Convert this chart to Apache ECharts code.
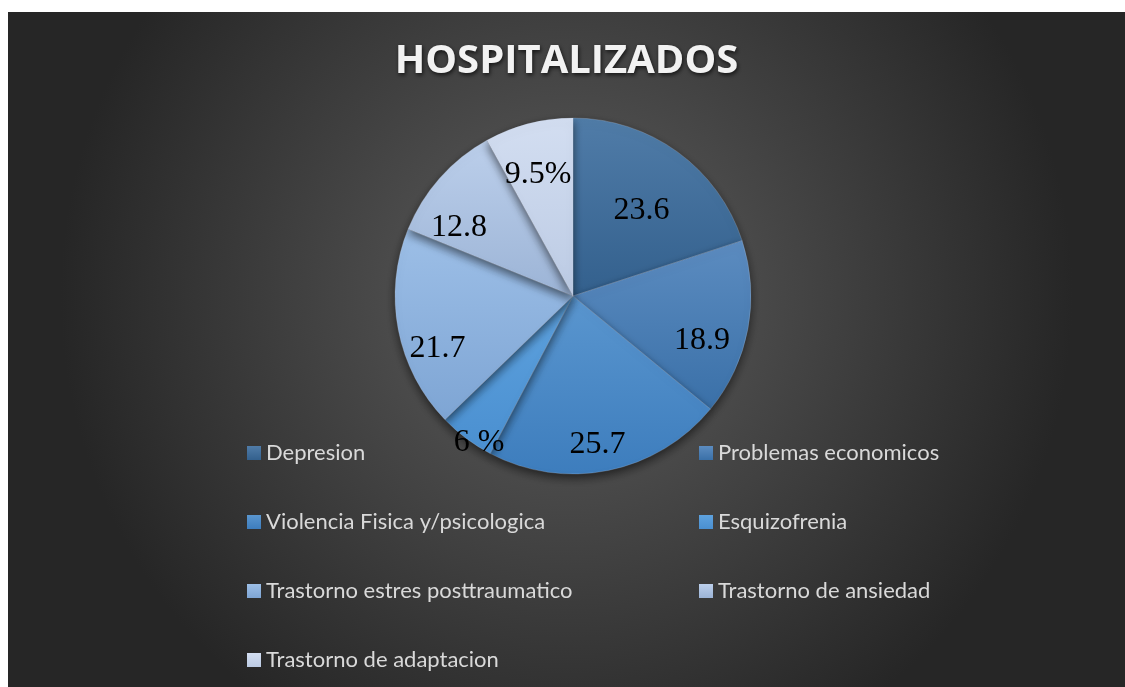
<!DOCTYPE html>
<html>
<head>
<meta charset="utf-8">
<script src="https://cdn.jsdelivr.net/npm/echarts@6/dist/echarts.min.js"></script>
<style>
body { margin: 0; background: #fff; }
#pic1 { position: absolute; left: 8px; top: 12px; width: 1117px; height: 675px; }
</style>
</head>
<body>
<div id="pic1"></div>
<script>
// datos del grafico
var categorias = ['Depresion', 'Problemas economicos', 'Violencia Fisica y/psicologica', 'Esquizofrenia',
  'Trastorno estres posttraumatico', 'Trastorno de ansiedad', 'Trastorno de adaptacion'];
var valores = [23.6, 18.9, 25.7, 6, 21.7, 12.8, 9.5];
var etiquetas = ['23.6', '18.9', '25.7', '6 %', '21.7', '12.8', '9.5%'];

// colores (arriba, abajo)
var colores = [
  ['#507ca8', '#33608d'],
  ['#5c8cc0', '#3a70a8'],
  ['#5a96cf', '#3d7dbd'],
  ['#5ea2de', '#4a8fd0'],
  ['#9dbfe7', '#7ea5d4'],
  ['#bccfeb', '#9cb4d6'],
  ['#d3def1', '#bccbe4']
];
// donde va cada etiqueta: angulo (grados desde arriba) y fraccion del radio
var anguloEtiqueta = [38.6, 109.1, 170.7, 212.6, 248.5, 300.7, 343.9];
var radioEtiqueta = [0.60, 0.75, 0.83, 0.96, 0.80, 0.73, 0.69];
var R = 178;

var total = valores.reduce(function (a, b) { return a + b; }, 0);
var medios = [];
var acum = 0;
for (var i = 0; i < valores.length; i++) {
  medios.push((acum + valores[i] / 2) / total * Math.PI * 2);
  acum += valores[i];
}

var datos = categorias.map(function (c, i) {
  return {
    name: c,
    value: valores[i],
    itemStyle: {
      color: new echarts.graphic.LinearGradient(0, 0, 0, 1, [
        { offset: 0, color: colores[i][0] },
        { offset: 1, color: colores[i][1] }
      ])
    }
  };
});

var myChart = echarts.init(document.getElementById('pic1'));

var leyenda = {
  orient: 'vertical',
  itemWidth: 14,
  itemHeight: 14,
  itemGap: 47,
  top: 425,
  icon: 'rect',
  itemStyle: { borderWidth: 0 },
  textStyle: { color: '#d9d9d9', fontFamily: 'Lato', fontSize: 22 }
};

option = {
  backgroundColor: new echarts.graphic.RadialGradient(0.5, 0.42, 0.75, [
    { offset: 0, color: '#5e5e5e' },
    { offset: 1, color: '#262626' }
  ]),
  title: {
    text: 'HOSPITALIZADOS',
    left: 'center',
    top: 25,
    textStyle: {
      color: '#f2f2f2',
      fontFamily: 'Open Sans',
      fontWeight: 'bold',
      fontSize: 40,
      textShadowColor: 'rgba(0,0,0,0.7)',
      textShadowBlur: 4,
      textShadowOffsetX: 1,
      textShadowOffsetY: 2
    }
  },
  legend: [
    Object.assign({}, leyenda, { left: 234, data: [categorias[0], categorias[2], categorias[4], categorias[6]] }),
    Object.assign({}, leyenda, { left: 686, data: [categorias[1], categorias[3], categorias[5]] })
  ],
  series: [
    {
      name: 'HOSPITALIZADOS',
      type: 'pie',
      radius: R,
      center: [565, 284],
      startAngle: 90,
      clockwise: true,
      animation: false,
      data: datos,
      itemStyle: {
        borderColor: 'rgba(200,212,230,0.45)',
        borderWidth: 0.5,
        shadowBlur: 10,
        shadowOffsetY: 4,
        shadowColor: 'rgba(0,0,0,0.55)'
      },
      label: {
        position: 'inside',
        formatter: function (p) { return etiquetas[p.dataIndex]; },
        color: '#000',
        fontFamily: 'Liberation Serif',
        fontSize: 32
      },
      labelLine: { show: false },
      labelLayout: function (p) {
        var i = p.dataIndex;
        var a = anguloEtiqueta[i] * Math.PI / 180;
        var k = radioEtiqueta[i] * R;
        var m = medios[i];
        return {
          dx: Math.sin(a) * k - Math.sin(m) * R / 2,
          dy: -Math.cos(a) * k + Math.cos(m) * R / 2
        };
      },
      emphasis: { disabled: true }
    }
  ]
};

myChart.setOption(option);
</script>
</body>
</html>
